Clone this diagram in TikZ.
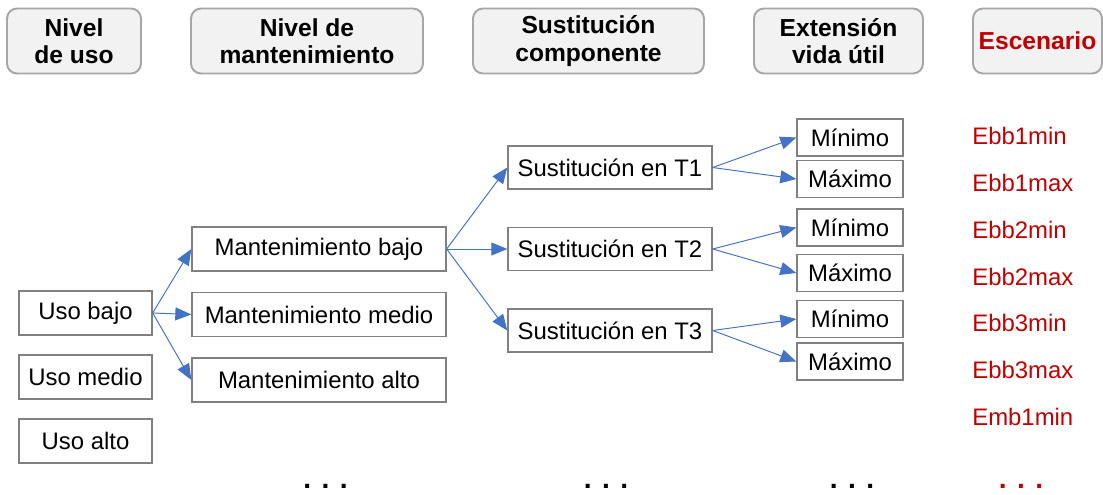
\documentclass[tikz,border=0pt]{standalone}
\usepackage{fontspec}
\setmainfont{Liberation Sans}
\usetikzlibrary{arrows.meta}
\definecolor{gris}{HTML}{F2F2F2}
\definecolor{bordeh}{HTML}{A6A6A6}
\definecolor{bordec}{HTML}{808080}
\definecolor{azul}{HTML}{4472C4}
\definecolor{rojo}{HTML}{C00000}
\tikzset{
    hdr/.style={draw=bordeh,line width=1.1pt,fill=gris,rounded corners=0.2cm,align=center,inner sep=0pt,
        font=\fontsize{14}{15.6}\selectfont\bfseries,minimum height=1.3cm},
    caja/.style={draw=bordec,line width=0.8pt,inner sep=0pt,font=\fontsize{13.6}{15}\selectfont},
    esc/.style={anchor=west,inner sep=0pt,text=rojo,font=\fontsize{13.6}{15}\selectfont},
    puntos/.style={anchor=base,inner sep=0pt,font=\fontsize{16}{16}\selectfont\bfseries},
    flecha/.style={draw=azul,line width=0.55pt,-{Triangle[length=0.32cm,width=0.26cm]}},
}
\begin{document}
\begin{tikzpicture}[x=0.02cm,y=-0.02cm]
            \useasboundingbox (0,0) rectangle (1103,494);
            % cabecera
            \node[hdr,minimum width=2.68cm] (H1) at (74,41){Nivel\\de uso};
            \node[hdr,minimum width=4.64cm] (H2) at (307,41){Nivel de\\mantenimiento};
            \node[hdr,minimum width=4.62cm] (H3) at (588.5,41){Sustitución\\componente};
            \node[hdr,minimum width=3.38cm] (H4) at (838.5,41){Extensión\\vida útil};
            \node[hdr,minimum width=2.58cm,text=rojo] (H5) at (1037.5,41){Escenario};
            % nivel de uso
            \node[caja,minimum width=2.66cm,minimum height=0.88cm] (U1) at (85.5,313){Uso bajo};
            \node[caja,minimum width=2.66cm,minimum height=0.88cm] (U2) at (85.5,377){Uso medio};
            \node[caja,minimum width=2.66cm,minimum height=0.88cm] (U3) at (85.5,441){Uso alto};
            % mantenimiento
            \node[caja,minimum width=5.08cm,minimum height=0.88cm] (M1) at (319,249){Mantenimiento bajo};
            \node[caja,minimum width=5.08cm,minimum height=0.88cm] (M2) at (319,314.5){Mantenimiento medio};
            \node[caja,minimum width=5.08cm,minimum height=0.88cm] (M3) at (319,380){Mantenimiento alto};
            % sustitucion
            \node[caja,minimum width=4.08cm,minimum height=0.86cm] (S1) at (610,167.5){Sustitución en T1};
            \node[caja,minimum width=4.08cm,minimum height=0.86cm] (S2) at (610,249){Sustitución en T2};
            \node[caja,minimum width=4.08cm,minimum height=0.86cm] (S3) at (610,330.5){Sustitución en T3};
            % extension vida util
            \node[caja,minimum width=2.12cm,minimum height=0.74cm] (V1) at (850,137.5){Mínimo};
            \node[caja,minimum width=2.12cm,minimum height=0.74cm] (V2) at (850,179){Máximo};
            \node[caja,minimum width=2.12cm,minimum height=0.74cm] (V3) at (850,227.5){Mínimo};
            \node[caja,minimum width=2.12cm,minimum height=0.74cm] (V4) at (850,273){Máximo};
            \node[caja,minimum width=2.12cm,minimum height=0.74cm] (V5) at (850,319){Mínimo};
            \node[caja,minimum width=2.12cm,minimum height=0.74cm] (V6) at (850,361.5){Máximo};
            % escenarios
            \node[esc] (E1) at (972,136){Ebb1min};
            \node[esc] (E2) at (972,183){Ebb1max};
            \node[esc] (E3) at (972,230){Ebb2min};
            \node[esc] (E4) at (972,277){Ebb2max};
            \node[esc] (E5) at (972,323){Ebb3min};
            \node[esc] (E6) at (972,370){Ebb3max};
            \node[esc] (E7) at (972,417){Emb1min};
            % puntos suspensivos
            \node[puntos] (P1) at (325.5,488){. . .};
            \node[puntos] (P2) at (606,488){. . .};
            \node[puntos] (P3) at (852,488){. . .};
            \node[puntos,text=rojo] (P4) at (1021,488){. . .};
            % flechas
            \foreach \m in {M1,M2,M3} \draw[flecha] (U1.east)--(\m.west);
            \foreach \s in {S1,S2,S3} \draw[flecha] (M1.east)--(\s.west);
            \draw[flecha] (S1.east)--(V1.west);
            \draw[flecha] (S1.east)--(V2.west);
            \draw[flecha] (S2.east)--(V3.west);
            \draw[flecha] (S2.east)--(V4.west);
            \draw[flecha] (S3.east)--(V5.west);
            \draw[flecha] (S3.east)--(V6.west);
        \end{tikzpicture}
\end{document}
